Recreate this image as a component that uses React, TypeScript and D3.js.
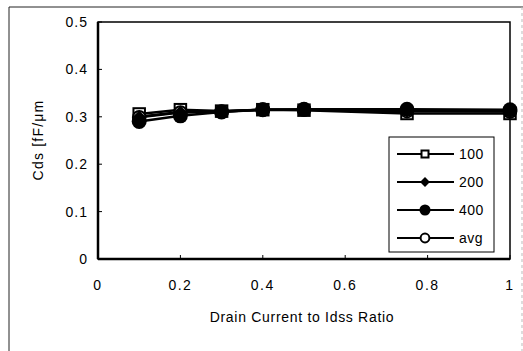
import * as d3 from "d3";
import React, { useRef, useEffect } from "react";

const ratios = [0.1, 0.2, 0.3, 0.4, 0.5, 0.75, 1.0];
const s100 = [0.306, 0.315, 0.312, 0.315, 0.314, 0.307, 0.307];
const s200 = [0.300, 0.310, 0.311, 0.315, 0.315, 0.312, 0.312];
const s400 = [0.290, 0.302, 0.310, 0.315, 0.316, 0.316, 0.315];
const sAvg = [0.299, 0.309, 0.311, 0.315, 0.315, 0.312, 0.311];
const xTicks = [0, 0.2, 0.4, 0.6, 0.8, 1];
const yTicks = [0, 0.1, 0.2, 0.3, 0.4, 0.5];
const seriesNames = ["100", "200", "400", "avg"];

const W = 523, H = 351;
const font = "Liberation Sans, Arial, sans-serif";

function App() {
  const ref = useRef<SVGSVGElement>(null);

  useEffect(() => {
    const svg = d3.select(ref.current);
    svg.selectAll("*").remove();

    const left = 98, right = 510, top = 22, bottom = 259;
    const x = d3.scaleLinear().domain([0, 1]).range([left, right]);
    const y = d3.scaleLinear().domain([0, 0.5]).range([bottom, top]);

    // outer frame
    svg.append("line").attr("x1", 9).attr("x2", 9).attr("y1", 7).attr("y2", H)
      .attr("stroke", "#222").attr("stroke-width", 1);
    svg.append("line").attr("x1", 9).attr("x2", W).attr("y1", 7).attr("y2", 7)
      .attr("stroke", "#222").attr("stroke-width", 1);
    svg.append("line").attr("x1", 522).attr("x2", 522).attr("y1", 7).attr("y2", H)
      .attr("stroke", "#bbb").attr("stroke-width", 1).attr("stroke-dasharray", "3,3");

    // plot box
    svg.append("rect").attr("x", left).attr("y", top)
      .attr("width", right - left).attr("height", bottom - top)
      .attr("fill", "none").attr("stroke", "#000").attr("stroke-width", 1.5);
    svg.append("line").attr("x1", left).attr("x2", left).attr("y1", top).attr("y2", bottom)
      .attr("stroke", "#000").attr("stroke-width", 2.5);
    svg.append("line").attr("x1", left).attr("x2", right).attr("y1", bottom).attr("y2", bottom)
      .attr("stroke", "#000").attr("stroke-width", 2.5);

    // ticks
    yTicks.forEach((t) => {
      svg.append("line").attr("x1", left).attr("x2", left + 4).attr("y1", y(t)).attr("y2", y(t))
        .attr("stroke", "#000").attr("stroke-width", 1);
      svg.append("text").attr("x", 88).attr("y", y(t) + 5)
        .attr("text-anchor", "end").attr("font-family", font).attr("font-size", 14)
        .attr("letter-spacing", 1)
        .text(t === 0 ? "0" : t.toFixed(1));
    });
    xTicks.forEach((t) => {
      svg.append("line").attr("x1", x(t)).attr("x2", x(t)).attr("y1", bottom).attr("y2", bottom - 4)
        .attr("stroke", "#000").attr("stroke-width", 1);
      svg.append("text").attr("x", x(t)).attr("y", 290)
        .attr("text-anchor", "middle").attr("font-family", font).attr("font-size", 14)
        .attr("letter-spacing", 1.5)
        .text(t === 0 || t === 1 ? String(t) : t.toFixed(1));
    });

    svg.append("text").attr("x", 302).attr("y", 322)
      .attr("text-anchor", "middle").attr("font-family", font).attr("font-size", 14)
      .attr("letter-spacing", 0.7)
      .text("Drain Current to Idss Ratio");
    svg.append("text")
      .attr("transform", "translate(43,140)rotate(-90)")
      .attr("text-anchor", "middle").attr("font-family", font).attr("font-size", 14)
      .attr("letter-spacing", 1.2)
      .text("Cds [fF/\u03bcm");

    const line = d3.line<number>().x((d, i) => x(ratios[i])).y((d) => y(d));
    const all = [s100, s200, s400, sAvg];
    all.forEach((s) => {
      svg.append("path").attr("d", line(s)).attr("fill", "none")
        .attr("stroke", "#000").attr("stroke-width", 2.5);
    });

    const drawMarker = (g: any, kind: number, cx: number, cy: number, scale: number) => {
      if (kind === 0) {
        const a = 5 * scale;
        g.append("rect").attr("x", cx - a).attr("y", cy - a).attr("width", 2 * a).attr("height", 2 * a)
          .attr("fill", "#fff").attr("stroke", "#000").attr("stroke-width", 2);
      } else if (kind === 1) {
        const a = 5.5 * scale;
        g.append("path").attr("d", `M${cx},${cy - a}L${cx + a},${cy}L${cx},${cy + a}L${cx - a},${cy}Z`)
          .attr("fill", "#000");
      } else if (kind === 2) {
        g.append("circle").attr("cx", cx).attr("cy", cy).attr("r", 6.5 * scale).attr("fill", "#000");
      } else {
        g.append("circle").attr("cx", cx).attr("cy", cy).attr("r", 5.5 * scale)
          .attr("fill", "#fff").attr("stroke", "#000").attr("stroke-width", 2);
      }
    };

    const mg = svg.append("g");
    [0, 3, 1, 2].forEach((k) => {
      all[k].forEach((v, i) => drawMarker(mg, k, x(ratios[i]), y(v), 1.15));
    });

    // legend
    svg.append("rect").attr("x", 389).attr("y", 137).attr("width", 105).attr("height", 115)
      .attr("fill", "#fff").attr("stroke", "#000").attr("stroke-width", 1);
    seriesNames.forEach((n, i) => {
      const ly = 154 + i * 28;
      svg.append("line").attr("x1", 397).attr("x2", 454).attr("y1", ly).attr("y2", ly)
        .attr("stroke", "#000").attr("stroke-width", 2);
      drawMarker(svg, i, 425, ly, i === 0 ? 0.7 : i === 1 ? 0.9 : i === 2 ? 0.85 : 0.8);
      svg.append("text").attr("x", 459).attr("y", ly + 5)
        .attr("font-family", font).attr("font-size", 14).attr("letter-spacing", 0.5).text(n);
    });
  }, []);

  return (
    <svg ref={ref} width={W} height={H}
      style={{ position: "absolute", left: 0, top: 0, background: "#fff" }} />
  );
}

export default App;
